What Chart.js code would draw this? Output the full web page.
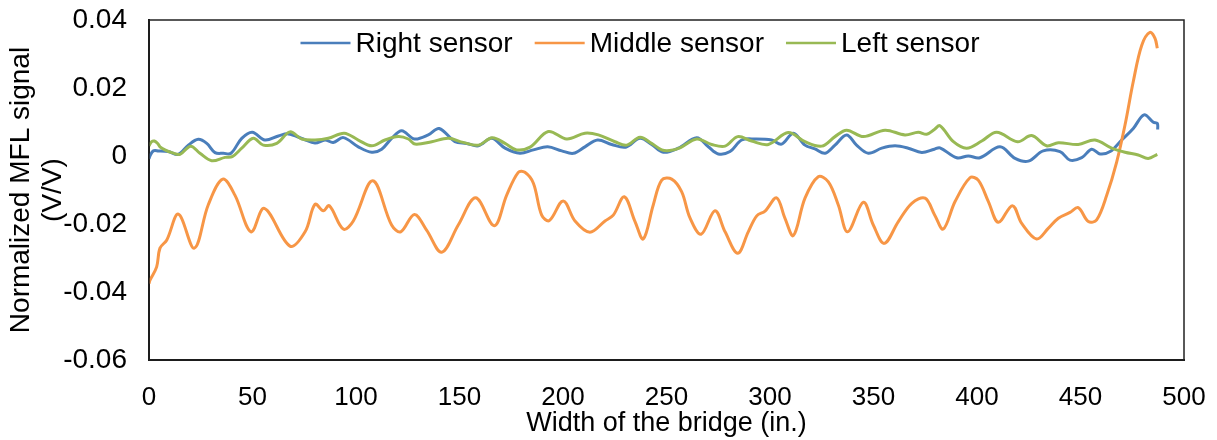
<!DOCTYPE html>
<html>
<head>
<meta charset="utf-8">
<script src="https://cdn.jsdelivr.net/npm/chart.js@4"></script>
<style>
  body { margin: 0; background: #fff; }
  canvas { display: block; }
</style>
</head>
<body>
<canvas id="chart" width="1217" height="440"></canvas>
<script>
//////////////////////////////////////////////////
// Data

const rightX = [0, 0.5, 2.1, 4.5, 9.3, 14.2, 19, 23.8, 27.9, 31.9, 35.9, 39.6, 44.8, 49.9, 56, 62.5, 67.3, 74.5, 80.2, 85, 89, 93.9, 101.1, 107.6, 112.4, 117.2, 122.1, 128.2, 134.9, 140.2, 147.8, 153.5, 159.1, 165.6, 172, 179.2, 185.7, 192.6, 199.4, 205, 210.6, 216.7, 223.5, 230.3, 237.2, 242.8, 248.5, 255.7, 264.6, 270.2, 275, 280.7, 286.3, 292.8, 300.8, 305.6, 311.3, 316.9, 321.7, 326.6, 331.4, 337, 341.8, 347.5, 354, 360.4, 366.8, 373.3, 379.4, 382.1, 390.2, 395.8, 401.4, 411.1, 418.4, 424.8, 432, 440.1, 444.9, 450.6, 455.4, 459.4, 464.3, 469.9, 475.5, 480.7, 485.2, 487.1, 487.3]
const rightY = [-0.0008, 0.0001, 0.0015, 0.0015, 0.0013, 0.0005, 0.0032, 0.0049, 0.0037, 0.001, 0.0008, 0.0008, 0.0052, 0.007, 0.0047, 0.0059, 0.0065, 0.005, 0.0038, 0.0047, 0.004, 0.0054, 0.0027, 0.0011, 0.002, 0.0052, 0.0074, 0.005, 0.0062, 0.0081, 0.0042, 0.0037, 0.003, 0.0052, 0.0023, 0.0008, 0.0018, 0.0027, 0.0015, 0.0008, 0.0027, 0.0047, 0.0034, 0.0026, 0.0052, 0.0034, 0.0011, 0.0023, 0.0054, 0.0027, 0.0006, 0.0013, 0.0047, 0.005, 0.0047, 0.0035, 0.0067, 0.0032, 0.0021, 0.0008, 0.0032, 0.0062, 0.0032, 0.0008, 0.0023, 0.003, 0.0023, 0.001, 0.002, 0.0024, -0.0005, 0, -0.0005, 0.0027, -0.0007, -0.0015, 0.0015, 0.0013, -0.0012, -0.0005, 0.002, 0.0006, 0.0013, 0.0047, 0.0081, 0.0121, 0.0099, 0.0096, 0.0078]

const middleX = [0, 0.5, 3.7, 5.3, 8.6, 14.2, 21.9, 28.6, 35.6, 41.5, 49.3, 55.7, 68.1, 75.4, 80.2, 84.2, 87.1, 93.9, 98.7, 108.1, 117.2, 121.6, 128.2, 134.1, 141.4, 149.4, 157.8, 166.8, 172.8, 178.4, 181.6, 185.7, 189.7, 193.4, 200.1, 205.8, 213, 220.3, 224.3, 229.6, 234.8, 238.8, 243.6, 247.7, 252.5, 257.3, 261.4, 266.7, 273.4, 278.3, 284.4, 289.5, 293.6, 297.6, 303.2, 307.2, 311.3, 316.9, 323.3, 328.2, 333, 337.5, 345.1, 349.9, 355.2, 362, 368.5, 374.9, 379.6, 383.7, 389.4, 396.6, 400.6, 405.5, 410.3, 417.1, 421.6, 428.8, 434.4, 439.3, 444.9, 448.9, 453.8, 457.8, 462.7, 467.5, 471.5, 475.5, 479.6, 483.6, 486, 487.1]
const middleY = [-0.0375, -0.0365, -0.0326, -0.0271, -0.0247, -0.0171, -0.0271, -0.0144, -0.0068, -0.0115, -0.0223, -0.0154, -0.0265, -0.0223, -0.0142, -0.0161, -0.0146, -0.0215, -0.0191, -0.0073, -0.0203, -0.0223, -0.0172, -0.0218, -0.0283, -0.0203, -0.0123, -0.0205, -0.0115, -0.0048, -0.0048, -0.008, -0.0174, -0.019, -0.0132, -0.0191, -0.0224, -0.0191, -0.0174, -0.012, -0.0193, -0.0244, -0.0144, -0.0071, -0.0068, -0.0105, -0.0183, -0.023, -0.0161, -0.0223, -0.0286, -0.0223, -0.0176, -0.0162, -0.0123, -0.0183, -0.0234, -0.0124, -0.0061, -0.0076, -0.0144, -0.0223, -0.0136, -0.0203, -0.0257, -0.0193, -0.0139, -0.0124, -0.0174, -0.0215, -0.0134, -0.0064, -0.0071, -0.0134, -0.0195, -0.0146, -0.0198, -0.0244, -0.0213, -0.0183, -0.0166, -0.0152, -0.0193, -0.0188, -0.0115, -0.0017, 0.0091, 0.0219, 0.0326, 0.0364, 0.0346, 0.0317]

const leftX = [0, 1.3, 2.6, 4.2, 5.3, 7.7, 11, 15, 20.1, 24.6, 30.3, 36.7, 40.2, 44.8, 50.4, 55.2, 61.7, 68.1, 73.8, 80.2, 86.6, 94.3, 101.1, 107.6, 114, 120.4, 125.3, 128.5, 136.6, 144.6, 151.8, 159.1, 165.8, 172, 177.6, 184.1, 192.9, 201.8, 210.6, 217.1, 225.1, 230.8, 237.2, 242.8, 247.7, 251.5, 256.5, 264.6, 271.8, 278.3, 284.4, 291.1, 299.2, 308.8, 316.9, 325, 331.4, 337, 345.1, 355.6, 365.2, 371.6, 375.7, 379.4, 382.1, 388.6, 395, 402.3, 409.5, 419.6, 426.4, 433.6, 439.3, 448.9, 457, 465.1, 471.5, 477.9, 482.7, 487.1]
const leftY = [0.003, 0.0042, 0.0044, 0.0037, 0.0027, 0.0018, 0.001, 0.0005, 0.0029, 0.0008, -0.0014, -0.0004, -0.0002, 0.0023, 0.0052, 0.0032, 0.0037, 0.0071, 0.005, 0.0047, 0.0052, 0.0067, 0.0047, 0.003, 0.0047, 0.0057, 0.005, 0.0035, 0.0042, 0.0052, 0.004, 0.0032, 0.0054, 0.0037, 0.0018, 0.0026, 0.0072, 0.005, 0.0067, 0.0062, 0.0042, 0.0032, 0.0055, 0.0037, 0.0018, 0.0016, 0.0024, 0.005, 0.0034, 0.0029, 0.0057, 0.0044, 0.0034, 0.0069, 0.0042, 0.0029, 0.0057, 0.0076, 0.0057, 0.0076, 0.0062, 0.007, 0.0064, 0.0078, 0.0089, 0.0042, 0.0023, 0.0044, 0.007, 0.0042, 0.006, 0.003, 0.0039, 0.0034, 0.0047, 0.0023, 0.0011, 0.0003, -0.0007, 0.0005]

const seriesLabels = ['Right sensor', 'Middle sensor', 'Left sensor']
const seriesColors = ['#4A7EBB', '#F79646', '#98B954']
const yTitle = ['Normalized MFL signal', '(V/V)']
const xTitle = 'Width of the bridge (in.)'

const zip = (xs, ys) => xs.map((x, i) => ({ x, y: ys[i] }))

//////////////////////////////////////////////////
// Plugins: plot frame and in-plot legend

const FONT = '"Liberation Sans", Arial, sans-serif'

const frame = {
  id: 'frame',
  afterDatasetsDraw(chart) {
    const { ctx, chartArea: a } = chart
    ctx.save()
    ctx.strokeStyle = '#222'
    ctx.lineWidth = 1.5
    ctx.strokeRect(a.left, a.top, a.right - a.left, a.bottom - a.top)
    ctx.restore()
  }
}

const insideLegend = {
  id: 'insideLegend',
  afterDraw(chart) {
    const { ctx } = chart
    const lineLen = 50, gap = 5, spacing = 22
    ctx.save()
    ctx.font = '28px ' + FONT
    ctx.textBaseline = 'middle'
    const items = chart.data.datasets.map(ds => ({
      label: ds.label, color: ds.borderColor, w: lineLen + gap + ctx.measureText(ds.label).width
    }))
    const total = items.reduce((s, it) => s + it.w, 0) + spacing * (items.length - 1)
    let x = 640 - total / 2
    const y = 43
    for (const it of items) {
      ctx.strokeStyle = it.color
      ctx.lineWidth = 2.5
      ctx.beginPath()
      ctx.moveTo(x, y)
      ctx.lineTo(x + lineLen, y)
      ctx.stroke()
      ctx.fillStyle = '#000'
      ctx.fillText(it.label, x + lineLen + gap, y + 1)
      x += it.w + spacing
    }
    ctx.restore()
  }
}

//////////////////////////////////////////////////
// Chart

const lineSet = (label, data, color, order) => ({
  label,
  data,
  borderColor: color,
  backgroundColor: color,
  borderWidth: 3,
  pointRadius: 0,
  showLine: true,
  tension: 0.35,
  order
})

new Chart(document.getElementById('chart'), {
  type: 'scatter',
  plugins: [frame, insideLegend],
  data: {
    datasets: [
      lineSet(seriesLabels[0], zip(rightX, rightY), seriesColors[0], 3),
      lineSet(seriesLabels[1], zip(middleX, middleY), seriesColors[1], 2),
      lineSet(seriesLabels[2], zip(leftX, leftY), seriesColors[2], 1)
    ]
  },
  options: {
    responsive: false,
    animation: false,
    layout: { padding: { top: 20, right: 33, left: 0, bottom: 0 } },
    plugins: {
      legend: { display: false },
      tooltip: { enabled: false }
    },
    scales: {
      x: {
        type: 'linear',
        min: 0,
        max: 500,
        grid: { display: false, drawTicks: false },
        border: { display: true, color: '#111', width: 2 },
        ticks: {
          stepSize: 50,
          padding: 22,
          color: '#000',
          maxRotation: 0,
          font: { family: FONT, size: 26 }
        },
        title: {
          display: true,
          text: xTitle,
          color: '#000',
          padding: { top: 6, bottom: 0 },
          font: { family: FONT, size: 27 }
        },
        afterFit: (scale) => {
          scale.height = 80
          scale.paddingLeft = 0
          scale.paddingRight = 0
        }
      },
      y: {
        type: 'linear',
        min: -0.06,
        max: 0.04,
        grid: { display: false, drawTicks: false },
        border: { display: true, color: '#111', width: 2 },
        ticks: {
          stepSize: 0.02,
          padding: 22,
          color: '#000',
          font: { family: FONT, size: 28 },
          callback: (v) => Math.abs(v) < 1e-9 ? '0' : v.toFixed(2)
        },
        title: {
          display: true,
          text: yTitle,
          color: '#000',
          padding: { top: 6, bottom: 0 },
          font: { family: FONT, size: 28, lineHeight: 1.12 }
        },
        afterFit: (scale) => {
          scale.width = 149
          scale.paddingTop = 0
          scale.paddingBottom = 0
        }
      }
    }
  }
})
</script>
</body>
</html>
